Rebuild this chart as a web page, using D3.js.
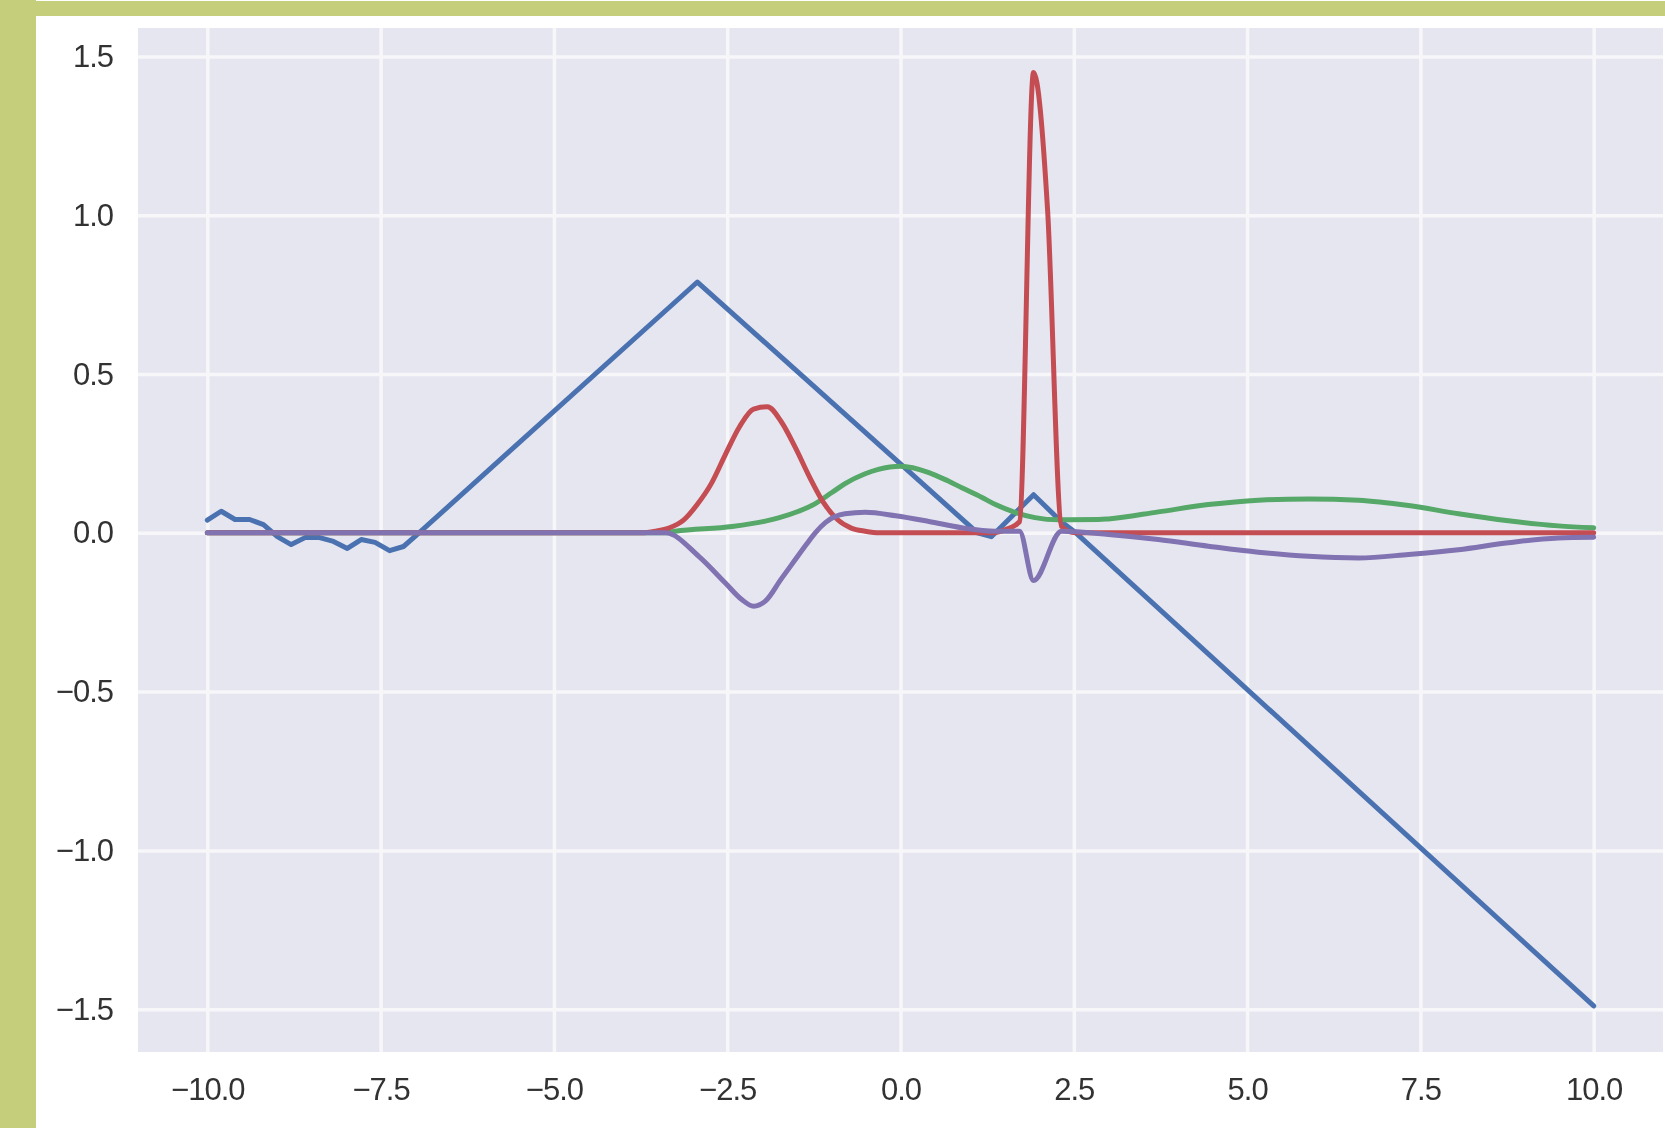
<!DOCTYPE html>
<html>
<head>
<meta charset="utf-8">
<script src="https://cdn.jsdelivr.net/npm/d3@7"></script>
<style>
  html, body { margin: 0; padding: 0; background: #ffffff; }
  svg { display: block; }
  text { font-family: "Liberation Sans", Arial, sans-serif; }
</style>
</head>
<body>
<script>
// ---- Data ----
const xTicks = [-10, -7.5, -5, -2.5, 0, 2.5, 5, 7.5, 10];
const yTicks = [-1.5, -1.0, -0.5, 0.0, 0.5, 1.0, 1.5];

const blueSeries = [
  [-10, 0.04], [-9.8, 0.068], [-9.6, 0.042], [-9.39, 0.042], [-9.19, 0.026],
  [-8.99, -0.012], [-8.79, -0.037], [-8.59, -0.015], [-8.38, -0.015], [-8.18, -0.027],
  [-7.98, -0.049], [-7.78, -0.021], [-7.58, -0.03], [-7.37, -0.056], [-7.17, -0.043],
  [-6.97, -0.005], [-2.93, 0.79], [1.11, 0.0], [1.31, -0.012], [1.92, 0.12],
  [2.32, 0.035], [2.53, 0.0], [10, -1.49]
];

const greenSeries = [
  [-10, 0.0], [-3.4, 0.0], [-3.25, 0.005], [-2.43, 0.02], [-1.95, 0.037], [-1.76, 0.047],
  [-1.47, 0.068], [-1.28, 0.086], [-0.99, 0.127], [-0.8, 0.155], [-0.51, 0.186],
  [-0.32, 0.2], [0.0, 0.21], [0.41, 0.19], [0.69, 0.163], [0.885, 0.142],
  [1.17, 0.112], [1.37, 0.089], [1.66, 0.064], [1.94, 0.048], [2.28, 0.041],
  [2.86, 0.042], [3.0, 0.044], [3.72, 0.066], [4.44, 0.089], [5.16, 0.103],
  [5.89, 0.107], [6.61, 0.103], [7.33, 0.086], [8.05, 0.06], [8.77, 0.038],
  [9.49, 0.022], [10, 0.016]
];

const redSeries = [
  [-10, 0.0], [-3.74, 0.0], [-3.54, 0.005], [-3.33, 0.016], [-3.13, 0.04], [-2.93, 0.09],
  [-2.73, 0.155], [-2.53, 0.245], [-2.32, 0.335], [-2.12, 0.39], [-1.92, 0.397],
  [-1.72, 0.35], [-1.52, 0.27], [-1.31, 0.175], [-1.11, 0.095], [-0.91, 0.042],
  [-0.71, 0.015], [-0.51, 0.005], [-0.3, 0.0], [1.31, 0.0], [1.515, 0.01],
  [1.717, 0.035], [1.919, 1.45], [2.121, 1.02], [2.323, 0.02], [2.525, 0.0], [10, 0.0]
];

const purpleSeries = [
  [-10, 0.0], [-3.39, 0.0], [-2.91, -0.074], [-2.53, -0.157], [-2.29, -0.21],
  [-2.12, -0.231], [-1.95, -0.215], [-1.72, -0.145], [-1.52, -0.085], [-1.37, -0.04],
  [-1.23, 0.0], [-1.08, 0.033], [-0.8, 0.06], [-0.51, 0.065], [-0.07, 0.054],
  [0.41, 0.036], [0.885, 0.016], [1.37, 0.005], [1.717, 0.005], [1.919, -0.15],
  [2.323, 0.005], [3.0, -0.005], [3.72, -0.021], [4.44, -0.042], [5.16, -0.061],
  [5.89, -0.074], [6.61, -0.079], [7.33, -0.068], [8.05, -0.053], [8.77, -0.031],
  [9.49, -0.016], [10, -0.014]
];

const seriesList = [
  { name: "blue", color: "#4C72B0", data: blueSeries, smooth: false },
  { name: "green", color: "#55A868", data: greenSeries, smooth: true },
  { name: "red", color: "#C44E52", data: redSeries, smooth: true },
  { name: "purple", color: "#8172B2", data: purpleSeries, smooth: true }
];

// ---- Layout ----
const W = 1665, H = 1128;
const plot = { left: 138, right: 1663, top: 28, bottom: 1052 };

const svg = d3.select("body").append("svg")
  .attr("width", W).attr("height", H);

const defs = svg.append("defs");
defs.append("filter").attr("id", "soft")
  .attr("x", "-5%").attr("y", "-5%").attr("width", "110%").attr("height", "110%")
  .append("feGaussianBlur").attr("stdDeviation", 0.7);

// white page + green frame
svg.append("rect").attr("x", 0).attr("y", 0).attr("width", W).attr("height", H).attr("fill", "#ffffff");
svg.append("rect").attr("x", 0).attr("y", 1).attr("width", W).attr("height", 15).attr("fill", "#c5cf7b");
svg.append("rect").attr("x", 0).attr("y", 0).attr("width", 32).attr("height", 2).attr("fill", "#c5cf7b");
svg.append("rect").attr("x", 0).attr("y", 0).attr("width", 36).attr("height", H).attr("fill", "#c5cf7b");

const x = d3.scaleLinear().domain([-11, 11]).range([plot.left, plot.right]);
const y = d3.scaleLinear().domain([-1.635, 1.59]).range([plot.bottom, plot.top]);

// plot background
svg.append("rect")
  .attr("x", plot.left).attr("y", plot.top)
  .attr("width", plot.right - plot.left).attr("height", plot.bottom - plot.top)
  .attr("fill", "#e6e6f0");

// grid via axes
const fmt = d3.format(".1f");
const xGrid = svg.append("g")
  .attr("transform", `translate(0,${plot.bottom})`)
  .call(d3.axisBottom(x).tickValues(xTicks).tickSize(-(plot.bottom - plot.top)).tickFormat(""));
const yGrid = svg.append("g")
  .attr("transform", `translate(${plot.left},0)`)
  .call(d3.axisLeft(y).tickValues(yTicks).tickSize(-(plot.right - plot.left)).tickFormat(""));
[xGrid, yGrid].forEach(g => {
  g.select(".domain").remove();
  g.selectAll(".tick line").attr("stroke", "#f7f7fa").attr("stroke-width", 3.5);
});

// tick labels via axes
const xAxis = svg.append("g")
  .attr("transform", `translate(0,${plot.bottom})`)
  .attr("filter", "url(#soft)")
  .call(d3.axisBottom(x).tickValues(xTicks).tickSize(0).tickPadding(26).tickFormat(fmt));
const yAxis = svg.append("g")
  .attr("transform", `translate(${plot.left},0)`)
  .attr("filter", "url(#soft)")
  .call(d3.axisLeft(y).tickValues(yTicks).tickSize(0).tickPadding(25).tickFormat(fmt));
[xAxis, yAxis].forEach(g => {
  g.select(".domain").remove();
  g.selectAll(".tick text")
    .attr("fill", "#333333")
    .style("font-size", "31px")
    .style("letter-spacing", "-1px")
    .style("font-family", "'Liberation Sans', Arial, sans-serif");
});

// lines
const clipId = "plotclip";
defs.append("clipPath").attr("id", clipId).append("rect")
  .attr("x", plot.left).attr("y", plot.top)
  .attr("width", plot.right - plot.left).attr("height", plot.bottom - plot.top);

const lineLinear = d3.line().x(d => x(d[0])).y(d => y(d[1])).curve(d3.curveLinear);
const lineSmooth = d3.line().x(d => x(d[0])).y(d => y(d[1])).curve(d3.curveMonotoneX);
const lines = svg.append("g").attr("clip-path", `url(#${clipId})`)
  .append("g").attr("filter", "url(#soft)");
seriesList.forEach(s => {
  lines.append("path")
    .datum(s.data)
    .attr("fill", "none")
    .attr("stroke", s.color)
    .attr("stroke-width", 5)
    .attr("stroke-linejoin", "round")
    .attr("stroke-linecap", "round")
    .attr("d", s.smooth ? lineSmooth : lineLinear);
});
</script>
</body>
</html>
